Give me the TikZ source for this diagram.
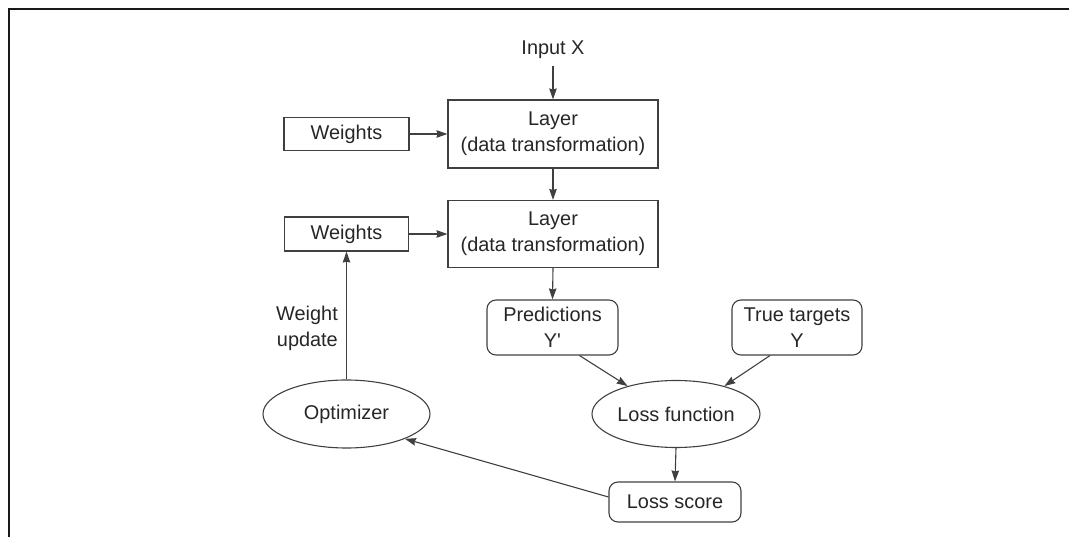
\documentclass[tikz,border=0pt]{standalone}
\usepackage{fontspec}
\setmainfont{Liberation Sans}
\usetikzlibrary{arrows.meta,shapes.geometric}

\definecolor{ink}{HTML}{404040}
\definecolor{txt}{HTML}{262626}

\tikzset{
  every node/.style={text=txt, font=\fontsize{19.9}{25.6}\selectfont, align=center, inner sep=0pt},
  sqbox/.style={draw=ink, line width=1.1pt, rectangle},
  rbox/.style={draw=ink, line width=1.1pt, rectangle, rounded corners=9pt},
  oval/.style={draw=ink, line width=1.1pt, ellipse},
  flow/.style={draw=ink, line width=1.1pt, -{Stealth[length=11pt,width=7.5pt,inset=1pt]}}
}

\begin{document}
\begin{tikzpicture}[x=1pt, y=-1pt]
  \useasboundingbox (0,0) rectangle (1069,537);

  % outer frame (top and left edges)
  \draw[line width=2.6pt, black!90] (9,537) -- (9,9) -- (1069,9);

  % nodes
  \node (in) at (553,50) {Input X};
  \node[sqbox, minimum width=210pt, minimum height=68pt] (l1) at (553,134) {Layer\\(data transformation)};
  \node[sqbox, minimum width=210pt, minimum height=67pt] (l2) at (553,234) {Layer\\(data transformation)};
  \node[sqbox, minimum width=125pt, minimum height=33pt] (w1) at (346.5,134) {Weights};
  \node[sqbox, minimum width=124pt, minimum height=34pt] (w2) at (346.5,234) {Weights};
  \node[rbox, minimum width=131pt, minimum height=55pt] (pred) at (552.5,327.5) {Predictions\\Y\textquotesingle};
  \node[rbox, minimum width=130pt, minimum height=55pt] (tt) at (797,327.5) {True targets\\Y};
  \node[oval, minimum width=168pt, minimum height=67pt] (lf) at (676,414) {Loss function};
  \node[oval, minimum width=167pt, minimum height=68pt] (opt) at (346.5,414) {Optimizer};
  \node[rbox, minimum width=132pt, minimum height=40pt] (ls) at (675,502) {Loss score};
  \node[anchor=east, align=right] (wu) at (338,328.5) {Weight\\update};

  % connectors
  \draw[flow] ([yshift=-7pt]in.south) -- (l1.north);
  \draw[flow] (w1.east) -- (l1.west);
  \draw[flow] (l1.south) -- (l2.north);
  \draw[flow] (w2.east) -- (l2.west);
  \draw[flow] (l2.south) -- (pred.north);
  \draw[flow] ([xshift=27pt]pred.south) -- (lf.150);
  \draw[flow] ([xshift=-27pt]tt.south) -- (lf.30);
  \draw[flow] (lf.south) -- (ls.north);
  \draw[flow] ([yshift=5pt]ls.west) -- (opt.-23);
  \draw[flow] (opt.north) -- (w2.south);
\end{tikzpicture}
\end{document}
